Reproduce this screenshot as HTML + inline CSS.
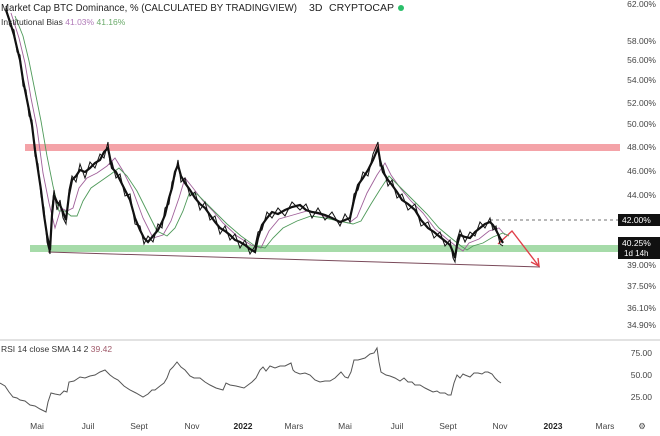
<!DOCTYPE html>
<html><head><meta charset="utf-8"><style>
body{margin:0;background:#fff;width:660px;height:436px;overflow:hidden;font-family:"Liberation Sans",sans-serif}
svg{display:block}
</style></head><body>
<svg width="660" height="436" xmlns="http://www.w3.org/2000/svg" font-family="Liberation Sans, sans-serif">
<rect x="25" y="144" width="595" height="7" fill="#f4a3a8"/>
<rect x="30" y="245" width="590" height="7" fill="#a6dba9"/>
<line x1="48" y1="252" x2="540" y2="267" stroke="#7a4a5a" stroke-width="1"/>
<line x1="490" y1="220" x2="620" y2="220" stroke="#444" stroke-width="0.8" stroke-dasharray="3,3"/>
<polyline points="498,244 512,231 538,265" fill="none" stroke="#e0404a" stroke-width="1.4"/>
<polyline points="531,262 539,266 538,258" fill="none" stroke="#e0404a" stroke-width="1.4"/>
<g transform="translate(5,3)"><polyline fill="none" stroke="#a0609a" stroke-width="0.9" points="6,10 14,35 20,60 26,95 32,125 38,170 44,200 50,225 56,205 62,208 68,205 74,185 82,175 92,170 102,163 110,155 118,168 128,188 138,215 148,235 158,232 166,218 174,195 180,175 188,185 198,198 208,208 218,220 232,233 246,242 256,245 264,228 274,216 288,212 302,208 316,212 330,217 344,220 352,214 362,190 372,172 380,160 386,172 396,186 406,198 418,210 430,226 442,236 452,244 458,248 464,240 474,236 484,228 494,225 500,232"/></g>
<g transform="translate(9,6)"><polyline fill="none" stroke="#4f9a5a" stroke-width="0.9" points="6,10 14,30 20,55 26,85 32,115 38,150 44,180 50,205 56,205 62,210 68,210 74,195 82,182 92,175 102,168 110,162 118,170 128,185 138,205 148,225 158,230 166,222 174,205 180,188 188,188 198,198 208,208 218,218 232,230 246,240 256,242 264,232 274,222 288,215 302,210 316,212 330,215 344,218 352,215 362,198 372,182 380,170 386,176 396,186 406,196 418,208 430,222 442,232 452,240 458,244 464,240 474,237 484,231 494,227 500,230"/></g>
<polyline fill="none" stroke="#111" stroke-width="1" points="6,6 10,26 14,30 17,52 20,55 23,86 26,90 29,116 32,120 35,156 38,164 41,196 44,208 47,242 50,254 52,208 54,190 57,210 60,200 63,218 66,224 69,190 72,176 76,182 80,164 85,178 90,162 95,168 100,154 104,158 108,142 110,164 112,162 116,178 120,174 125,196 130,194 135,224 140,226 144,244 148,236 153,242 158,224 162,228 165,208 169,204 172,182 175,176 178,160 181,182 185,178 190,196 195,192 200,210 205,202 210,220 215,216 220,234 225,226 230,240 235,234 240,248 245,240 250,254 255,246 258,232 262,230 267,212 272,218 278,208 285,216 292,202 300,210 306,204 312,218 318,208 325,220 332,212 340,226 345,214 350,222 354,194 358,190 363,172 368,176 373,154 378,142 380,166 383,166 388,186 392,180 397,198 402,194 408,210 415,204 421,226 428,222 434,238 440,232 445,246 450,240 453,258 455,262 457,240 460,230 465,242 470,232 475,236 480,222 485,228 490,218 493,230 496,226 500,244 503,246"/>
<polyline fill="none" stroke="#111" stroke-width="2.2" points="6,10 10,22 14,35 17,48 20,60 23,80 26,95 29,110 32,125 35,150 38,170 41,190 44,215 47,235 50,250 52,215 54,195 57,202 60,205 63,212 66,220 69,195 72,180 76,176 80,170 85,172 90,168 95,163 100,160 104,152 108,148 110,158 112,168 116,172 120,180 125,190 130,200 135,218 140,230 144,238 148,242 153,236 158,230 162,222 165,215 169,198 172,188 175,172 178,165 181,176 185,183 190,190 195,198 200,204 205,208 210,215 215,222 220,228 225,231 230,235 235,240 240,242 245,245 250,249 255,252 258,238 262,225 267,218 272,212 278,214 285,210 292,207 300,205 306,210 312,212 318,213 325,215 332,218 340,222 345,220 350,218 354,200 358,185 363,178 368,170 373,160 378,148 380,160 383,172 388,180 392,185 397,192 402,200 408,204 415,210 421,220 428,228 434,232 440,237 445,241 450,245 453,252 455,258 457,245 460,235 465,237 470,238 475,232 480,228 485,224 490,222 493,225 496,230 500,238 503,243"/>
<line x1="0" y1="340" x2="660" y2="340" stroke="#d8d8d8" stroke-width="1.5"/>
<polyline fill="none" stroke="#555" stroke-width="1" points="0,383 5,386 9,392 13,397 17,398 20,400 25,401 30,405 35,406 40,409 46,412 48,402 51,393 55,394 60,395 64,391 67,392 69,382 74,381 80,377 85,378 90,376 95,375 100,372 105,370 108,373 110,375 114,378 118,380 124,386 130,390 136,393 143,397 148,394 152,390 155,390 160,386 164,383 167,378 170,370 173,367 177,362 181,367 185,370 190,376 194,378 200,378 205,382 210,385 216,388 223,390 226,383 230,385 236,386 244,388 248,385 252,382 256,378 260,370 263,367 266,371 270,366 275,368 280,366 285,366 291,363 293,370 295,372 300,374 305,373 310,375 315,380 320,382 325,381 330,381 335,378 341,372 345,377 348,378 351,372 354,360 358,360 365,358 370,354 374,353 377,348 379,362 381,372 386,375 390,376 395,378 400,381 404,378 408,382 412,382 415,385 420,385 425,388 429,390 433,392 437,391 440,393 445,393 448,395 451,395 454,383 457,375 460,378 463,374 465,375 470,377 474,373 478,373 482,374 485,372 488,372 492,374 495,378 498,381 501,383"/>
<g font-size="10" fill="#333">
<text x="1" y="11" font-size="10.5" fill="#222" textLength="296" lengthAdjust="spacingAndGlyphs">Market Cap BTC Dominance, % (CALCULATED BY TRADINGVIEW)</text>
<text x="309" y="11" font-size="10.5" fill="#222">3D</text>
<text x="329" y="11" font-size="10.5" fill="#222">CRYPTOCAP</text>
<circle cx="401" cy="8" r="3" fill="#2bbf6a"/>
<text x="1" y="25" font-size="8.5">Institutional Bias <tspan fill="#b07ab8">41.03%</tspan> <tspan fill="#6aaa6a">41.16%</tspan></text>
<text x="1" y="352" font-size="8.5">RSI 14 close SMA 14 2 <tspan fill="#a05a6a">39.42</tspan></text>
</g>
<g font-size="8.5" fill="#444" text-anchor="end">
<text x="656" y="7">62.00%</text><text x="656" y="44">58.00%</text><text x="656" y="63">56.00%</text><text x="656" y="83">54.00%</text><text x="656" y="106">52.00%</text><text x="656" y="127">50.00%</text><text x="656" y="150">48.00%</text><text x="656" y="174">46.00%</text><text x="656" y="198">44.00%</text><text x="656" y="268">39.00%</text><text x="656" y="289">37.50%</text><text x="656" y="311">36.10%</text><text x="656" y="328">34.90%</text>
<text x="652" y="356">75.00</text><text x="652" y="378">50.00</text><text x="652" y="400">25.00</text>
</g>
<rect x="618" y="214" width="42" height="12" fill="#111"/>
<text x="622" y="223" font-size="8.5" fill="#fff">42.00%</text>
<rect x="618" y="237" width="42" height="22" fill="#111"/>
<text x="622" y="246" font-size="8.5" fill="#fff">40.25%</text>
<text x="624" y="256" font-size="8" fill="#fff">1d 14h</text>
<g font-size="8.5" fill="#444" text-anchor="middle">
<text x="37" y="429">Mai</text><text x="88" y="429">Juil</text><text x="139" y="429">Sept</text><text x="192" y="429">Nov</text><text x="243" y="429" font-weight="bold" fill="#222">2022</text><text x="294" y="429">Mars</text><text x="345" y="429">Mai</text><text x="397" y="429">Juil</text><text x="448" y="429">Sept</text><text x="500" y="429">Nov</text><text x="553" y="429" font-weight="bold" fill="#222">2023</text><text x="605" y="429">Mars</text><text x="642" y="429">⚙</text>
</g>
</svg>
</body></html>
